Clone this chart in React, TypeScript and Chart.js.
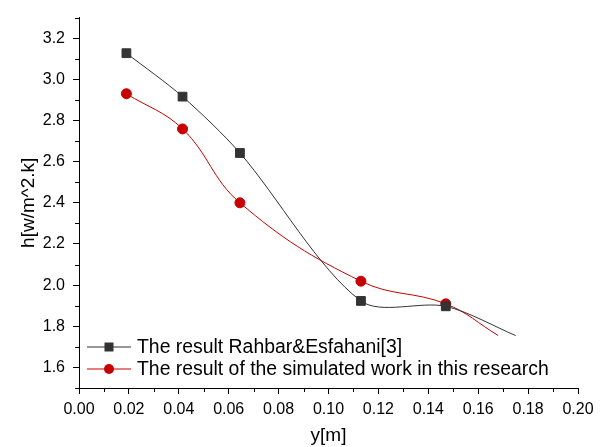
import React, { useEffect, useRef } from 'react';
import { Chart, registerables } from 'chart.js';

Chart.register(...registerables);

// ---- data ----
const positionsX = [0.019, 0.0415, 0.0645, 0.113, 0.147];
const rahbarValues = [3.127, 2.916, 2.642, 1.923, 1.897];
const rahbarCurveEnd = { x: 0.175, y: 1.755 };
const simulatedValues = [2.93, 2.759, 2.4, 2.019, 1.909];
const simulatedCurveEnd = { x: 0.168, y: 1.755 };

const xTicks = [0, 0.02, 0.04, 0.06, 0.08, 0.1, 0.12, 0.14, 0.16, 0.18, 0.2];
const xMinorTicks = [0.01, 0.03, 0.05, 0.07, 0.09, 0.11, 0.13, 0.15, 0.17, 0.19];
const yTicks = [1.6, 1.8, 2.0, 2.2, 2.4, 2.6, 2.8, 3.0, 3.2];
const yMinorTicks = [1.5, 1.7, 1.9, 2.1, 2.3, 2.5, 2.7, 2.9, 3.1, 3.3];

const seriesNames = [
  'The result Rahbar&Esfahani[3]',
  'The result of the simulated work in this research',
];
const xTitle = 'y[m]';
const yTitle = 'h[w/m^2.k]';

const FAMILY = '"Liberation Sans", Arial, sans-serif';
const BLACK = '#333333';
const RED = '#c80000';

const minorTicksPlugin = {
  id: 'minorTicks',
  afterDraw(chart: any) {
    const { ctx, scales } = chart;
    const xs = scales.x;
    const ys = scales.y;
    ctx.save();
    ctx.strokeStyle = '#000';
    ctx.lineWidth = 1;
    ctx.beginPath();
    xMinorTicks.forEach((v) => {
      const px = Math.round(xs.getPixelForValue(v)) + 0.5;
      ctx.moveTo(px, ys.bottom);
      ctx.lineTo(px, ys.bottom + 4);
    });
    yMinorTicks.forEach((v) => {
      const py = Math.round(ys.getPixelForValue(v)) + 0.5;
      ctx.moveTo(xs.left, py);
      ctx.lineTo(xs.left - 4, py);
    });
    ctx.stroke();
    ctx.restore();
  },
};

const legendPlugin = {
  id: 'insideLegend',
  afterDraw(chart: any) {
    const { ctx, chartArea } = chart;
    const rows = [chartArea.bottom - 41, chartArea.bottom - 19];
    ctx.save();
    chart.data.datasets.forEach((ds: any, i: number) => {
      const y = rows[i];
      const x0 = chartArea.left + 8;
      const x1 = chartArea.left + 52;
      const xm = (x0 + x1) / 2;
      ctx.strokeStyle = ds.borderColor;
      ctx.lineWidth = 1.2;
      ctx.beginPath();
      ctx.moveTo(x0, y);
      ctx.lineTo(x1, y);
      ctx.stroke();
      ctx.fillStyle = ds.pointBackgroundColor;
      if (ds.pointStyle === 'rect') {
        ctx.fillRect(xm - 4.5, y - 4.5, 9, 9);
      } else {
        ctx.beginPath();
        ctx.arc(xm, y, 5, 0, Math.PI * 2);
        ctx.fill();
      }
      ctx.fillStyle = '#000';
      ctx.font = `19.4px ${FAMILY}`;
      ctx.textBaseline = 'middle';
      ctx.textAlign = 'left';
      ctx.fillText(ds.label, x1 + 6, y + 1);
    });
    ctx.restore();
  },
};

export default function App() {
  const ref = useRef<HTMLCanvasElement>(null);

  useEffect(() => {
    if (!ref.current) return;
    const nPts = positionsX.length;
    const rahbarData = positionsX
      .map((x, i) => ({ x, y: rahbarValues[i] }))
      .concat([rahbarCurveEnd]);
    const simData = positionsX
      .map((x, i) => ({ x, y: simulatedValues[i] }))
      .concat([simulatedCurveEnd]);

    const tickFont = { family: FAMILY, size: 16 };
    const titleFont = { family: FAMILY, size: 19 };

    const chart = new Chart(ref.current, {
      type: 'line',
      data: {
        datasets: [
          {
            label: seriesNames[0],
            data: rahbarData,
            borderColor: BLACK,
            backgroundColor: BLACK,
            pointBackgroundColor: BLACK,
            pointBorderColor: BLACK,
            pointStyle: 'rect',
            pointRadius: (c: any) => (c.dataIndex < nPts ? 6.2 : 0),
            borderWidth: 1,
            tension: 0.3,
            fill: false,
          },
          {
            label: seriesNames[1],
            data: simData,
            borderColor: RED,
            backgroundColor: RED,
            pointBackgroundColor: RED,
            pointBorderColor: RED,
            pointStyle: 'circle',
            pointRadius: (c: any) => (c.dataIndex < nPts ? 5 : 0),
            borderWidth: 1,
            tension: 0.4,
            fill: false,
          },
        ],
      },
      options: {
        responsive: false,
        animation: false,
        devicePixelRatio: 1,
        layout: { padding: { top: 12, right: 23, left: 0, bottom: 0 } },
        plugins: {
          legend: { display: false },
          tooltip: { enabled: false },
        },
        scales: {
          x: {
            type: 'linear',
            min: 0,
            max: 0.2,
            afterBuildTicks: (s: any) => {
              s.ticks = xTicks.map((v) => ({ value: v }));
            },
            afterFit: (s: any) => {
              s.height = 59;
            },
            ticks: {
              font: tickFont,
              color: '#000',
              padding: 6,
              maxRotation: 0,
              autoSkip: false,
              callback: (v: any) => Number(v).toFixed(2),
            },
            grid: {
              drawOnChartArea: false,
              tickLength: 6,
              tickColor: '#000',
              tickWidth: 1,
            },
            border: { color: '#000', width: 1 },
            title: {
              display: true,
              text: xTitle,
              font: titleFont,
              color: '#000',
              padding: { top: 0, bottom: 0 },
            },
          },
          y: {
            type: 'linear',
            min: 1.5,
            max: 3.3,
            afterBuildTicks: (s: any) => {
              s.ticks = yTicks.map((v) => ({ value: v }));
            },
            afterFit: (s: any) => {
              s.width = 79;
            },
            ticks: {
              font: tickFont,
              color: '#000',
              padding: 8,
              autoSkip: false,
              callback: (v: any) => Number(v).toFixed(1),
            },
            grid: {
              drawOnChartArea: false,
              tickLength: 6,
              tickColor: '#000',
              tickWidth: 1,
            },
            border: { color: '#000', width: 1 },
            title: {
              display: true,
              text: yTitle,
              font: titleFont,
              color: '#000',
              padding: { top: 17, bottom: 0 },
            },
          },
        },
      },
      plugins: [minorTicksPlugin, legendPlugin],
    } as any);

    return () => chart.destroy();
  }, []);

  return (
    <div style={{ position: 'absolute', left: 0, top: 0, width: 601, height: 447, background: '#fff' }}>
      <canvas ref={ref} width={601} height={447} style={{ display: 'block', width: 601, height: 447 }} />
    </div>
  );
}
